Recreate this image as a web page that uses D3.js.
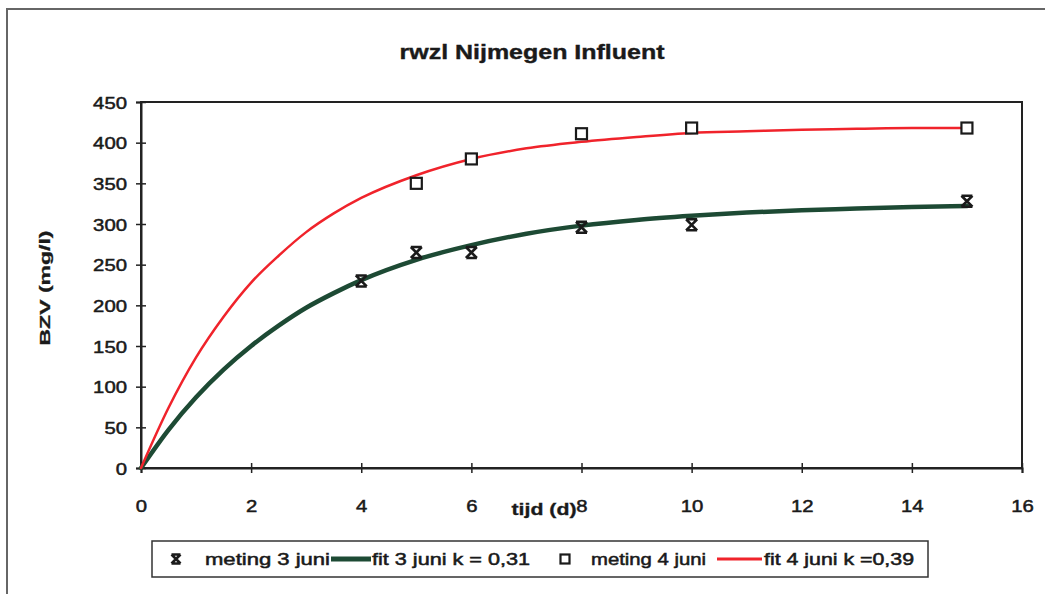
<!DOCTYPE html>
<html>
<head>
<meta charset="utf-8">
<script src="https://cdn.jsdelivr.net/npm/d3@7"></script>
<style>
  body { margin: 0; background: #fff; }
  text { font-family: "Liberation Sans", Arial, sans-serif; fill: #1a1a1a; }
</style>
</head>
<body>
<div id="chart"></div>
<script>
const tijd3 = [4, 5, 6, 8, 10, 15];
const meting3 = [230, 265, 265, 296, 299, 328];
const tijd4 = [5, 6, 8, 10, 15];
const meting4 = [350, 380, 411, 418, 418];

// fitted curves
const fitTijd = [0, 0.5, 1, 1.5, 2, 2.5, 3, 3.5, 4, 5, 6, 7, 8, 9, 10, 11, 12, 13, 14, 15];
const fit3 = [0, 47, 87, 121, 150, 175, 197, 215, 231, 256, 274, 288, 298, 305, 310, 314, 317, 319, 321, 322];
const fit4 = [0, 74, 136, 186, 228, 261, 290, 313, 332, 360, 380, 393, 401, 407, 412, 414, 416, 417, 418, 418];

const xTicks = [0, 2, 4, 6, 8, 10, 12, 14, 16];
const yTicks = [0, 50, 100, 150, 200, 250, 300, 350, 400, 450];

const W = 1045, H = 594;
const margin = { top: 102, right: 23, bottom: 126, left: 141 },
    width = W - margin.left - margin.right,
    height = H - margin.top - margin.bottom;

const svg = d3.select("#chart").append("svg")
    .attr("width", W)
    .attr("height", H);

// outer frame (only top and left edge visible in the scan)
svg.append("path")
    .attr("d", `M7,${H + 5} L7,9 L${W + 5},9`)
    .attr("fill", "none")
    .attr("stroke", "#666")
    .attr("stroke-width", 2);

svg.append("text")
    .attr("x", 532).attr("y", 59)
    .attr("text-anchor", "middle")
    .attr("font-size", 21).attr("font-weight", "bold")
    .attr("stroke", "#1a1a1a").attr("stroke-width", 0.4)
    .attr("textLength", 265).attr("lengthAdjust", "spacingAndGlyphs")
    .text("rwzl Nijmegen Influent");

const g = svg.append("g")
    .attr("transform", `translate(${margin.left},${margin.top})`);

const x = d3.scaleLinear().domain([0, 16]).range([0, width]);
const y = d3.scaleLinear().domain([0, 450]).range([height, 0]);

// plot frame
g.append("rect")
    .attr("width", width).attr("height", height)
    .attr("fill", "none").attr("stroke", "#222").attr("stroke-width", 2);

const yAxis = g.append("g")
    .call(d3.axisLeft(y).tickValues(yTicks).tickSize(5).tickPadding(9));
yAxis.select(".domain").attr("stroke", "#222").attr("stroke-width", 2);
yAxis.selectAll(".tick line").attr("x1", 5).attr("x2", -5).attr("stroke", "#222").attr("stroke-width", 1.5);
yAxis.selectAll(".tick text")
    .attr("font-size", 17).attr("fill", "#1a1a1a")
    .attr("stroke", "#1a1a1a").attr("stroke-width", 0.5)
    .attr("font-family", "Liberation Sans, Arial, sans-serif")
    .attr("dy", "0.36em")
    .attr("textLength", d => String(d).length * 11.3)
    .attr("lengthAdjust", "spacingAndGlyphs");

const xAxis = g.append("g")
    .attr("transform", `translate(0,${height})`)
    .call(d3.axisBottom(x).tickValues(xTicks).tickSize(5).tickPadding(27));
xAxis.select(".domain").attr("stroke", "#222").attr("stroke-width", 2);
xAxis.selectAll(".tick line").attr("y1", -5).attr("y2", 5).attr("stroke", "#222").attr("stroke-width", 1.5);
xAxis.selectAll(".tick text")
    .attr("font-size", 17).attr("fill", "#1a1a1a")
    .attr("stroke", "#1a1a1a").attr("stroke-width", 0.5)
    .attr("font-family", "Liberation Sans, Arial, sans-serif")
    .attr("textLength", d => String(d).length * 11.3)
    .attr("lengthAdjust", "spacingAndGlyphs");

// axis titles
svg.append("text")
    .attr("x", 544).attr("y", 515)
    .attr("text-anchor", "middle")
    .attr("font-size", 16).attr("font-weight", "bold")
    .attr("stroke", "#1a1a1a").attr("stroke-width", 0.3)
    .attr("textLength", 65).attr("lengthAdjust", "spacingAndGlyphs")
    .text("tijd (d)");

svg.append("text")
    .attr("transform", "translate(50,288) rotate(-90)")
    .attr("text-anchor", "middle")
    .attr("font-size", 15).attr("font-weight", "bold")
    .attr("stroke", "#1a1a1a").attr("stroke-width", 0.3)
    .attr("textLength", 115).attr("lengthAdjust", "spacingAndGlyphs")
    .text("BZV (mg/l)");

// fit lines
const line = d3.line().curve(d3.curveMonotoneX);
const colGreen = "#1d4a34", colRed = "#f0232b";

g.append("path")
    .attr("d", line(fitTijd.map((t, i) => [x(t), y(fit3[i])])))
    .attr("fill", "none").attr("stroke", colGreen).attr("stroke-width", 4.5)
    .attr("stroke-linecap", "round");

g.append("path")
    .attr("d", line(fitTijd.map((t, i) => [x(t), y(fit4[i])])))
    .attr("fill", "none").attr("stroke", colRed).attr("stroke-width", 2.5)
    .attr("stroke-linecap", "round");

// markers
function starMarker(sel, s) {
  return sel.append("path")
      .attr("d", `M${-s},${-s}L${s},${s}M${s},${-s}L${-s},${s}M${-s},${-s}L${s},${-s}M${-s},${s}L${s},${s}`)
      .attr("fill", "none").attr("stroke", "#1a1a1a").attr("stroke-width", 2.6);
}
function squareMarker(sel, s) {
  return sel.append("rect")
      .attr("x", -s).attr("y", -s).attr("width", 2 * s).attr("height", 2 * s)
      .attr("fill", "#fff").attr("stroke", "#1a1a1a").attr("stroke-width", 2.2);
}

tijd3.forEach((t, i) => {
  const m = g.append("g").attr("transform", `translate(${x(t)},${y(meting3[i])})`);
  starMarker(m, 5.5);
});
tijd4.forEach((t, i) => {
  const m = g.append("g").attr("transform", `translate(${x(t)},${y(meting4[i])})`);
  squareMarker(m, 5.5);
});

// legend
const leg = svg.append("g");
leg.append("rect")
    .attr("x", 152).attr("y", 541).attr("width", 776).attr("height", 36)
    .attr("fill", "#fff").attr("stroke", "#333").attr("stroke-width", 1.5);

const ly = 559;
starMarker(leg.append("g").attr("transform", `translate(176,${ly})`), 4.5);
squareMarker(leg.append("g").attr("transform", `translate(565,${ly})`), 4.5);

leg.append("line").attr("x1", 331).attr("x2", 371).attr("y1", ly).attr("y2", ly)
    .attr("stroke", colGreen).attr("stroke-width", 5);
leg.append("line").attr("x1", 717).attr("x2", 762).attr("y1", ly).attr("y2", ly)
    .attr("stroke", colRed).attr("stroke-width", 3);

const legendTexts = [
  { x: 205, w: 125, t: "meting 3 juni" },
  { x: 372, w: 158, t: "fit 3 juni k = 0,31" },
  { x: 591, w: 115, t: "meting 4 juni" },
  { x: 764, w: 150, t: "fit 4 juni k =0,39" }
];
leg.selectAll("text.lt")
    .data(legendTexts)
    .join("text")
    .attr("class", "lt")
    .attr("x", d => d.x).attr("y", ly + 6)
    .attr("font-size", 16)
    .attr("stroke", "#1a1a1a").attr("stroke-width", 0.5)
    .attr("textLength", d => d.w).attr("lengthAdjust", "spacingAndGlyphs")
    .text(d => d.t);
</script>
</body>
</html>
